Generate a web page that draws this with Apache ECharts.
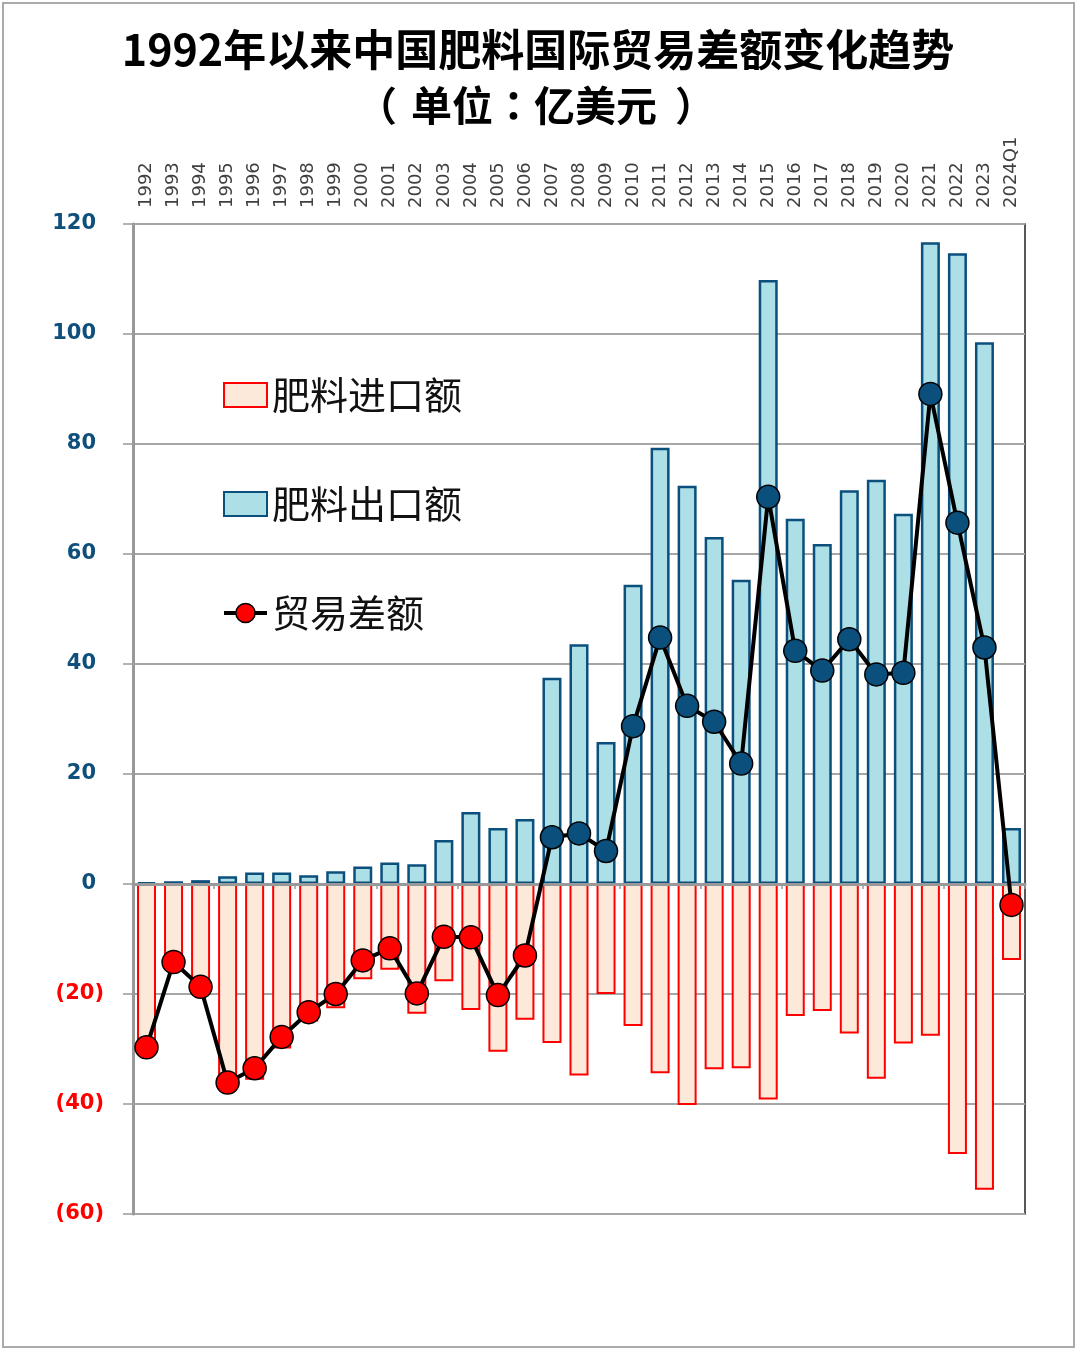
<!DOCTYPE html>
<html>
<head>
<meta charset="utf-8">
<script src="https://cdn.jsdelivr.net/npm/echarts@6/dist/echarts.min.js"></script>
<style>html,body{margin:0;padding:0;background:#fff;}#c{width:1080px;height:1352px;}</style>
</head>
<body>
<div id="c"></div>
<script>
const years = ['1992','1993','1994','1995','1996','1997','1998','1999','2000','2001','2002','2003','2004','2005','2006','2007','2008','2009','2010','2011','2012','2013','2014','2015','2016','2017','2018','2019','2020','2021','2022','2023','2024Q1'];
const exportValues = [0.3,0.5,0.7,1.4,2.1,2.1,1.6,2.3,3.2,3.9,3.6,8.0,13.1,10.2,11.8,37.5,43.6,25.8,54.4,79.3,72.4,63.1,55.3,109.8,66.4,61.8,71.6,73.5,67.3,116.7,114.7,98.5,10.2];
const importValues = [-30.0,-14.7,-19.4,-37.0,-35.6,-29.9,-25.0,-22.6,-17.3,-15.6,-23.6,-17.7,-22.9,-30.5,-24.7,-28.9,-34.8,-20.0,-25.8,-34.4,-40.2,-33.7,-33.5,-39.2,-24.0,-23.1,-27.2,-35.4,-29.0,-27.6,-49.1,-55.6,-13.8];
const balanceValues = [-29.7,-14.2,-18.7,-36.1,-33.5,-27.8,-23.3,-20.0,-13.9,-11.7,-19.9,-9.6,-9.7,-20.2,-13.0,8.5,9.2,6.0,28.7,44.8,32.4,29.5,21.9,70.4,42.4,38.8,44.5,38.1,38.4,89.1,65.7,43.0,-3.8];
const yTicks = {min:-60, max:120, interval:20};

const chart = echarts.init(document.getElementById('c'));
const RED = '#ff0000', BLUE = '#0b4f7c';
const SUBFONT = '"Noto Sans CJK TC", "Noto Sans CJK SC", sans-serif';
chart.setOption({
  animation: false,
  backgroundColor: '#fff',
  graphic: [{type:'rect', shape:{x:3,y:3,width:1071,height:1344}, style:{fill:'none', stroke:'#aaaaaa', lineWidth:2}, z:-1}],
  title: [
    {text:'1992年以来中国肥料国际贸易差额变化趋势', left:533, textAlign:'center', top:23,
     textStyle:{fontFamily:'"Noto Sans CJK SC", sans-serif', fontSize:43, fontWeight:'bold', color:'#000'}},
    {text:'{a|（}{b|单位：亿美元}{c|）}', left:531, textAlign:'center', top:80,
     textStyle:{fontFamily:SUBFONT, fontSize:40, fontWeight:'bold', color:'#000',
       rich:{a:{fontFamily:SUBFONT, fontSize:40, fontWeight:'bold', color:'#000', padding:[0,14,0,0]},
             b:{fontFamily:SUBFONT, fontSize:41, fontWeight:'bold', color:'#000'},
             c:{fontFamily:SUBFONT, fontSize:40, fontWeight:'bold', color:'#000', padding:[0,0,0,18]}}}}
  ],
  legend: {
    orient:'vertical', left:222, top:376, padding:0, itemWidth:43, itemHeight:24, itemGap:71,
    textStyle:{fontFamily:'"Noto Sans CJK SC", serif', fontSize:38, color:'#111', lineHeight:38},
    data:[
      {name:'肥料进口额', icon:'rect'},
      {name:'肥料出口额', icon:'rect'},
      {name:'贸易差额', itemStyle:{color:RED, borderColor:'#000', borderWidth:1.5}, lineStyle:{color:'#000', width:4}}
    ]
  },
  grid: {left:133, right:55, top:224, bottom:138, show:true, borderColor:'#222', borderWidth:1.5},
  xAxis: [
    {type:'category', data:years, position:'bottom', z:5,
     axisLine:{onZero:true, lineStyle:{color:'#999', width:3}},
     axisTick:{show:true, length:5, lineStyle:{color:'#999', width:1.5}},
     axisLabel:{show:false}},
    {type:'category', data:years, position:'top',
     axisLine:{show:false}, axisTick:{show:false},
     axisLabel:{rotate:-90, interval:0, margin:16, color:'#404040', fontFamily:'"DejaVu Sans", sans-serif', fontSize:18}}
  ],
  yAxis: {
    type:'value', min:yTicks.min, max:yTicks.max, interval:yTicks.interval,
    axisLine:{show:true, lineStyle:{color:'#999', width:3}},
    axisTick:{show:true, length:10, lineStyle:{color:'#999', width:1.5}},
    splitLine:{lineStyle:{color:'#a6a6a6', width:2}},
    axisLabel:{margin:29, fontFamily:'"DejaVu Sans", sans-serif', fontSize:21, fontWeight:'bold',
      formatter: v => v < 0 ? '{n|(' + (-v) + ')}' : '{p|' + v + '}',
      rich:{n:{color:RED, fontFamily:'"DejaVu Sans", sans-serif', fontSize:21, fontWeight:'bold'},
            p:{color:'#0e4f7c', fontFamily:'"DejaVu Sans", sans-serif', fontSize:21, fontWeight:'bold', padding:[0,8,0,0]}}}
  },
  series: [
    {name:'肥料进口额', type:'bar', data:importValues, barWidth:19,
     itemStyle:{color:'#fde9d9', borderColor:RED, borderWidth:2}},
    {name:'肥料出口额', type:'bar', data:exportValues, barWidth:19, barGap:'-100%',
     itemStyle:{color:'#addfe7', borderColor:BLUE, borderWidth:2.5}},
    {name:'贸易差额', type:'line', data:balanceValues, z:10, symbol:'circle', symbolSize:23,
     showSymbol:true, showAllSymbol:true,
     lineStyle:{color:'#000', width:4},
     itemStyle:{color: p => p.value < 0 ? RED : BLUE, borderColor:'#000', borderWidth:1.5}}
  ]
});
</script>
</body>
</html>
